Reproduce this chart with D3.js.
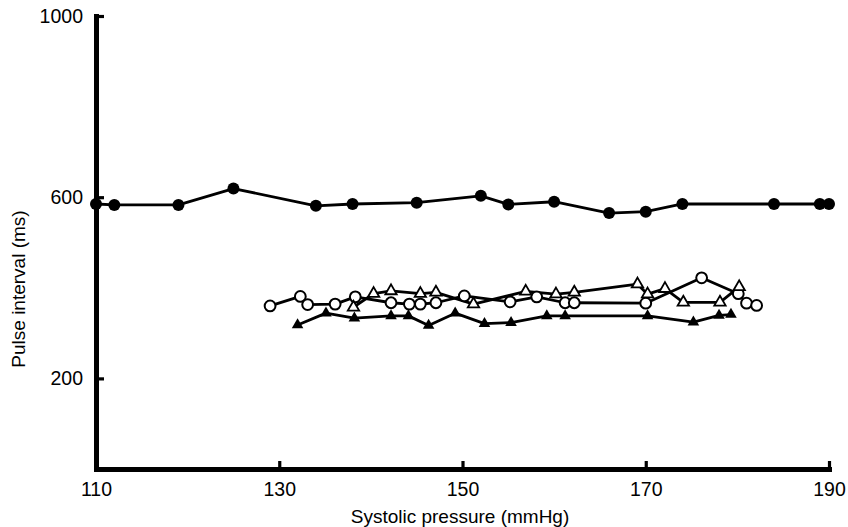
<html>
  <head>
    <meta charset="UTF-8">
    <script src="https://cdnjs.cloudflare.com/ajax/libs/d3/7.8.5/d3.min.js"></script>
    <style>
      body { margin: 0; background: #fff; font-family: 'Liberation Sans', Arial, sans-serif; }
      .axis text { font-size: 19.5px; fill: #000; font-family: 'Liberation Sans', Arial, sans-serif; }
      .axis path, .axis line { stroke: #000; }
      .title { font-size: 19px; fill: #000; }
    </style>
  </head>
  <body>
    <svg id="chart"></svg>
    <script>
      // systolic pressure (mmHg) / pulse interval (ms)
      const dotsX = [110, 112, 119, 125, 134, 138, 145, 152, 155, 160, 166, 170, 174, 184, 189, 190]
      const dotsY = [585, 583, 583, 619, 581, 585, 588, 603, 584, 590, 565, 568, 585, 585, 585, 585]

      const ringsX = [129, 132.3, 133.1, 136.1, 138.3, 142.2, 144.2, 145.4, 147.1, 150.2, 155.2, 158.1, 161.2, 162.2, 170, 176.1, 180.1, 181, 182.1]
      const ringsY = [360, 381, 363, 364, 380, 367, 364, 364, 367, 382, 369, 380, 367, 367, 366, 422, 387, 366, 361]

      const openTriX = [138.1, 140.3, 142.2, 145.4, 147.1, 151.2, 156.9, 160.2, 162.2, 169.1, 170.2, 172.1, 174.1, 178.1, 180.2]
      const openTriY = [357, 387, 393, 387, 390, 364, 392, 386, 390, 408, 386, 398, 368, 368, 402]

      const solidTriX = [132, 135.1, 138.2, 142.2, 144.1, 146.3, 149.2, 152.4, 155.3, 159.2, 161.2, 170.2, 175.2, 178, 179.3]
      const solidTriY = [318, 344, 333, 338, 338, 317, 344, 321, 323, 338, 338, 338, 324, 339, 341]

      const xTicks = [110, 130, 150, 170, 190]
      const yTicks = [200, 600, 1000]

      const width = 848
      const height = 527

      const svg = d3.select('#chart')
        .attr('width', width)
        .attr('height', height)

      const x = d3.scaleLinear().domain([110, 190]).range([96, 829])
      const y = d3.scaleLinear().domain([0, 1000]).range([469, 16])

      const zip = (xs, ys) => xs.map((v, i) => [v, ys[i]])

      const series = [
        { pts: zip(dotsX, dotsY), mark: 'dot' },
        { pts: zip(ringsX, ringsY), mark: 'ring' },
        { pts: zip(openTriX, openTriY), mark: 'openTri' },
        { pts: zip(solidTriX, solidTriY), mark: 'solidTri' }
      ]

      // axes, ticks pointing inward
      const xAxis = svg.append('g')
        .attr('class', 'axis')
        .attr('transform', `translate(0, ${y(0)})`)
        .call(d3.axisBottom(x).tickValues(xTicks).tickFormat(d3.format('d'))
          .tickSizeInner(-8).tickSizeOuter(0).tickPadding(13))
      xAxis.select('.domain').attr('stroke-width', 5).attr('stroke-linecap', 'square')
      xAxis.selectAll('.tick line').attr('stroke-width', 3.2)

      const yAxis = svg.append('g')
        .attr('class', 'axis')
        .attr('transform', `translate(${x(110)}, 0)`)
        .call(d3.axisLeft(y).tickValues(yTicks).tickFormat(d3.format('d'))
          .tickSizeInner(-8).tickSizeOuter(0).tickPadding(13))
      yAxis.select('.domain').attr('stroke-width', 5).attr('stroke-linecap', 'square')
      yAxis.selectAll('.tick line').attr('stroke-width', 3.2)

      svg.append('text')
        .attr('class', 'title')
        .attr('x', 460)
        .attr('y', 523)
        .attr('text-anchor', 'middle')
        .text('Systolic pressure (mmHg)')

      svg.append('text')
        .attr('class', 'title')
        .attr('transform', 'translate(25, 289) rotate(-90)')
        .attr('text-anchor', 'middle')
        .text('Pulse interval (ms)')

      const line = d3.line().x(d => x(d[0])).y(d => y(d[1]))

      svg.append('g').selectAll('path')
        .data(series)
        .join('path')
        .attr('d', d => line(d.pts))
        .attr('fill', 'none')
        .attr('stroke', '#000')
        .attr('stroke-width', 2.8)
        .attr('stroke-linejoin', 'round')

      const tri = d3.symbol().type(d3.symbolTriangle)

      series.forEach(s => {
        const g = svg.append('g')
        const pts = g.selectAll('.m').data(s.pts)
        if (s.mark === 'dot') {
          pts.join('circle')
            .attr('cx', d => x(d[0])).attr('cy', d => y(d[1]))
            .attr('r', 6).attr('fill', '#000')
        } else if (s.mark === 'ring') {
          pts.join('circle')
            .attr('cx', d => x(d[0])).attr('cy', d => y(d[1]))
            .attr('r', 5.4).attr('fill', '#fff')
            .attr('stroke', '#000').attr('stroke-width', 2)
        } else if (s.mark === 'openTri') {
          pts.join('path')
            .attr('transform', d => `translate(${x(d[0])}, ${y(d[1])})`)
            .attr('d', tri.size(56)())
            .attr('fill', '#fff')
            .attr('stroke', '#000').attr('stroke-width', 1.8)
        } else {
          pts.join('path')
            .attr('transform', d => `translate(${x(d[0])}, ${y(d[1])})`)
            .attr('d', tri.size(58)())
            .attr('fill', '#000')
        }
      })
    </script>
  </body>
</html>
